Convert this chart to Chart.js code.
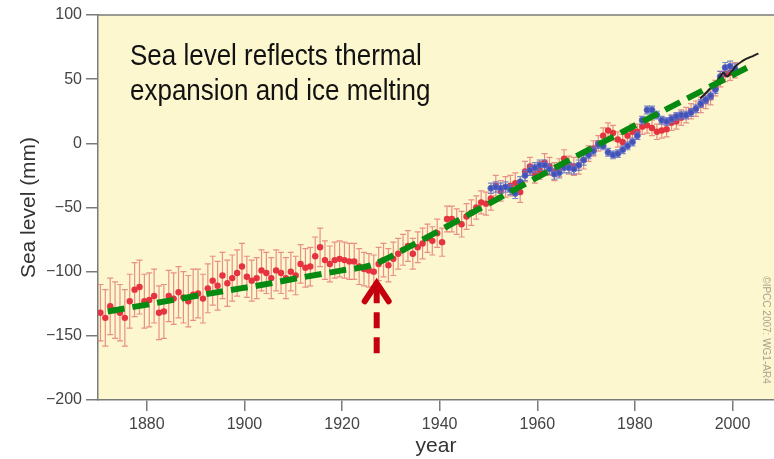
<!DOCTYPE html>
<html>
<head>
<meta charset="utf-8">
<title>Sea level</title>
<script src="https://cdn.jsdelivr.net/npm/chart.js@4.4.1/dist/chart.umd.min.js"></script>
<style>
  html, body { margin: 0; padding: 0; background: #fff; }
  canvas { display: block; }
</style>
</head>
<body>
<canvas id="seaChart" width="774" height="459"></canvas>
<script>
// reconstructed annual means (red), plotted mid-year
var redYears = [];
for (var yr = 1870; yr <= 2000; yr++) redYears.push(yr);
var redValues = [
  -132, -136, -127, -130, -132, -136, -123, -114, -112, -123,
  -122, -119, -132, -131, -119, -121, -116, -120, -123, -118,
  -117, -121, -113, -107, -111, -103, -109, -105, -101, -96,
  -104, -107, -105, -99, -101, -105, -99, -101, -105, -100,
  -103, -94, -97, -96, -88, -81, -91, -94, -91, -90,
  -91, -92, -92, -96, -98, -99, -100, -94, -91, -95,
  -90, -86, -83, -80, -86, -81, -78, -74, -76, -70,
  -77, -59, -59, -61, -63, -57, -54, -50, -46, -47,
  -43, -33, -37, -34, -33, -31, -38, -22, -18, -24,
  -21, -15, -18, -22, -19, -12, -17, -18, -17, -13,
  -8, -4, 0, 6, 10, 8, 3, 1, 6, 9,
  9, 13, 14, 12, 9, 10, 11, 16, 17, 20,
  22, 25, 27, 30, 33, 36, 43, 50, 54, 55,
  57
];
var redErrors = [
  22, 22, 22, 22, 22, 22, 21, 21, 21, 21,
  21, 21, 21, 21, 20, 20, 20, 20, 20, 20,
  19, 19, 19, 19, 19, 18, 18, 18, 18, 18,
  16, 16, 16, 16, 16, 16, 16, 16, 16, 15,
  15, 15, 15, 15, 15, 15, 15, 14, 14, 14,
  14, 14, 14, 14, 13, 13, 13, 13, 13, 13,
  13, 12, 12, 12, 12, 12, 12, 11, 11, 11,
  11, 10, 10, 10, 10, 10, 10, 9, 9, 9,
  9, 8, 8, 8, 8, 8, 8, 8, 7, 7,
  7, 7, 7, 7, 7, 7, 7, 7, 7, 7,
  6, 6, 6, 6, 6, 6, 6, 6, 6, 6,
  6, 6, 6, 6, 6, 6, 6, 6, 6, 6,
  6, 6, 6, 6, 6, 6, 6, 6, 6, 6,
  6
];

// tide gauge series (blue), 1950-2000
var blueYears = [];
for (var yb = 1950; yb <= 2000; yb++) blueYears.push(yb);
var blueValues = [
  -35, -34, -35, -34, -36, -39, -30, -25, -21, -19,
  -17, -17, -20, -24, -23, -19, -19, -20, -17, -13,
  -9, -6, -1, -2, -7, -9, -8, -5, -2, 1,
  6, 18, 26, 26, 22, 18, 17, 19, 21, 22,
  22, 24, 27, 31, 34, 37, 42, 52, 59, 60,
  58
];
var blueErrors = [
  4, 4, 4, 4, 4, 4, 4, 4, 4, 4,
  4, 4, 4, 4, 4, 4, 4, 4, 4, 4,
  3, 3, 3, 3, 3, 3, 3, 3, 3, 3,
  3, 3, 3, 3, 3, 3, 3, 3, 3, 3,
  3, 3, 3, 3, 3, 3, 3, 4, 4, 4,
  4
];

// satellite altimetry (black line)
var satYears = [1993.4, 1994.5, 1995.5, 1996.5, 1997.3, 1998.1, 1998.9, 1999.8, 2000.9, 2002.0, 2002.9, 2003.9, 2004.7, 2005.3];
var satValues = [35, 39, 43, 47, 51, 55, 52, 56, 61, 64, 66, 67.5, 69, 70];

// green dashed trend
var trendYears = [1872, 1887, 1896, 1904, 1911, 1920, 1926, 1929, 1937, 1952, 1972, 2003];
var trendValues = [-131, -121, -115, -110, -105, -99, -95, -90, -74, -43, -2, 59];

// axes
var xTicks = [1880, 1900, 1920, 1940, 1960, 1980, 2000];
var yTicks = [-200, -150, -100, -50, 0, 50, 100];

// the red arrow (year, from, to)
var arrowYear = 1927.1;
var arrowFrom = -163.5;
var arrowTo = -106.7;

var noteLines = ['Sea level reflects thermal', 'expansion and ice melting'];

const AXIS_GREY = '#7a7a7a';
const LABEL_FONT = "'Liberation Sans', Arial, Helvetica, sans-serif";

function pts(xs, ys, shift) {
  return xs.map((x, i) => ({ x: x + shift, y: ys[i] }));
}

const backgroundPlugin = {
  id: 'plotBackground',
  beforeDraw(chart) {
    const { ctx, chartArea: a } = chart;
    ctx.save();
    ctx.fillStyle = '#ffffff';
    ctx.fillRect(0, 0, chart.width, chart.height);
    ctx.fillStyle = '#fcf7ce';
    ctx.fillRect(a.left, a.top, a.right - a.left, a.bottom - a.top);
    // top frame line
    ctx.strokeStyle = AXIS_GREY;
    ctx.lineWidth = 1.5;
    ctx.beginPath();
    ctx.moveTo(a.left, a.top);
    ctx.lineTo(a.right, a.top);
    ctx.stroke();
    ctx.restore();
  }
};

const errorBarsPlugin = {
  id: 'errorBars',
  beforeDatasetDraw(chart, args) {
    const ds = chart.data.datasets[args.index];
    if (!ds.errors) return;
    const ctx = chart.ctx, xs = chart.scales.x, ys = chart.scales.y;
    ctx.save();
    ctx.strokeStyle = ds.errorColor;
    ctx.lineWidth = 1.2;
    ds.data.forEach((p, i) => {
      const px = xs.getPixelForValue(p.x);
      const top = ys.getPixelForValue(p.y + ds.errors[i]);
      const bot = ys.getPixelForValue(p.y - ds.errors[i]);
      ctx.beginPath();
      ctx.moveTo(px, top); ctx.lineTo(px, bot);
      ctx.moveTo(px - 3, top); ctx.lineTo(px + 3, top);
      ctx.moveTo(px - 3, bot); ctx.lineTo(px + 3, bot);
      ctx.stroke();
    });
    ctx.restore();
  }
};

const annotationsPlugin = {
  id: 'annotations',
  afterDatasetsDraw(chart) {
    const { ctx, chartArea: a } = chart;
    const xs = chart.scales.x, ys = chart.scales.y;
    ctx.save();

    // dashed arrow
    const ax = xs.getPixelForValue(arrowYear);
    const ay0 = ys.getPixelForValue(arrowFrom);
    const ay1 = ys.getPixelForValue(arrowTo);
    ctx.strokeStyle = '#c4000e';
    ctx.lineWidth = 6;
    ctx.setLineDash([16, 9]);
    ctx.beginPath();
    ctx.moveTo(ax, ay0);
    ctx.lineTo(ax, ay1 + 4);
    ctx.stroke();
    ctx.setLineDash([]);
    ctx.lineCap = 'round';
    ctx.lineJoin = 'miter';
    ctx.beginPath();
    ctx.moveTo(ax - 12, ay1 + 21);
    ctx.lineTo(ax, ay1 + 3);
    ctx.lineTo(ax + 12, ay1 + 21);
    ctx.stroke();

    // note text (condensed, like the original narrow face)
    ctx.save();
    ctx.translate(a.left + 32, a.top);
    ctx.scale(0.866, 1);
    ctx.fillStyle = '#111';
    ctx.font = "30px 'Liberation Sans Narrow', 'Arial Narrow', 'Liberation Sans', Arial, sans-serif";
    ctx.textAlign = 'left';
    ctx.textBaseline = 'alphabetic';
    ctx.fillText(noteLines[0], 0, 50);
    ctx.fillText(noteLines[1], 0, 85);
    ctx.restore();

    // credit
    ctx.translate(a.right - 8, a.top + 315);
    ctx.rotate(Math.PI / 2);
    ctx.fillStyle = '#a8a290';
    ctx.font = "10px 'Liberation Sans', Arial, sans-serif";
    ctx.textAlign = 'center';
    ctx.textBaseline = 'middle';
    ctx.fillText('©IPCC 2007: WG1-AR4', 0, 0);
    ctx.restore();
  }
};

const ctx = document.getElementById('seaChart').getContext('2d');
const seaChart = new Chart(ctx, {
  type: 'scatter',
  data: {
    datasets: [
      {
        label: 'trend',
        type: 'line',
        data: pts(trendYears, trendValues, 0),
        borderColor: '#078a11',
        borderWidth: 6,
        borderDash: [17, 8],
        pointRadius: 0,
        fill: false,
        cubicInterpolationMode: 'monotone',
        order: 0
      },
      {
        label: 'satellite',
        type: 'line',
        data: pts(satYears, satValues, 0),
        borderColor: '#222222',
        borderWidth: 2,
        pointRadius: 0,
        fill: false,
        tension: 0.3,
        order: 1
      },
      {
        label: 'tide gauges',
        data: pts(blueYears, blueValues, 0.5),
        errors: blueErrors,
        errorColor: 'rgba(100,115,200,0.85)',
        backgroundColor: '#4252b8',
        borderColor: '#5e6cc6',
        borderWidth: 1,
        pointRadius: 3,
        order: 2
      },
      {
        label: 'reconstruction',
        data: pts(redYears, redValues, 0.5),
        errors: redErrors,
        errorColor: 'rgba(225,110,110,0.75)',
        backgroundColor: '#e5333f',
        borderColor: '#e5333f',
        borderWidth: 0,
        pointRadius: 3.2,
        order: 3
      }
    ]
  },
  options: {
    responsive: false,
    animation: false,
    events: [],
    layout: { autoPadding: false, padding: { top: 15, right: 0, left: 0, bottom: 0 } },
    plugins: { legend: { display: false }, tooltip: { enabled: false } },
    scales: {
      x: {
        type: 'linear',
        min: 1870,
        max: 2008.5,
        afterFit: (scale) => { scale.height = 59; scale.paddingRight = 0; },
        afterBuildTicks: (scale) => { scale.ticks = xTicks.map(v => ({ value: v })); },
        grid: { drawOnChartArea: false, drawTicks: true, tickLength: 11, color: AXIS_GREY, lineWidth: 1.5 },
        border: { display: true, color: AXIS_GREY, width: 1.5 },
        ticks: {
          color: '#444', padding: 4, font: { family: LABEL_FONT, size: 16 }, maxRotation: 0,
          callback: (v) => String(v)
        },
        title: { display: true, text: 'year', color: '#333', padding: 0, font: { family: LABEL_FONT, size: 21 } }
      },
      y: {
        type: 'linear',
        min: -200,
        max: 100,
        afterFit: (scale) => { scale.width = 98; },
        afterBuildTicks: (scale) => { scale.ticks = yTicks.map(v => ({ value: v })); },
        grid: { drawOnChartArea: false, drawTicks: true, tickLength: 12, color: AXIS_GREY, lineWidth: 1.5 },
        border: { display: true, color: AXIS_GREY, width: 1.5 },
        ticks: {
          color: '#444', padding: 4, font: { family: LABEL_FONT, size: 16 },
          callback: (v) => String(v).replace('-', '\u2212')
        },
        title: { display: true, text: 'Sea level (mm)', color: '#333', padding: { top: 17, bottom: 0 }, font: { family: LABEL_FONT, size: 21 } }
      }
    }
  },
  plugins: [backgroundPlugin, errorBarsPlugin, annotationsPlugin]
});
</script>
</body>
</html>
